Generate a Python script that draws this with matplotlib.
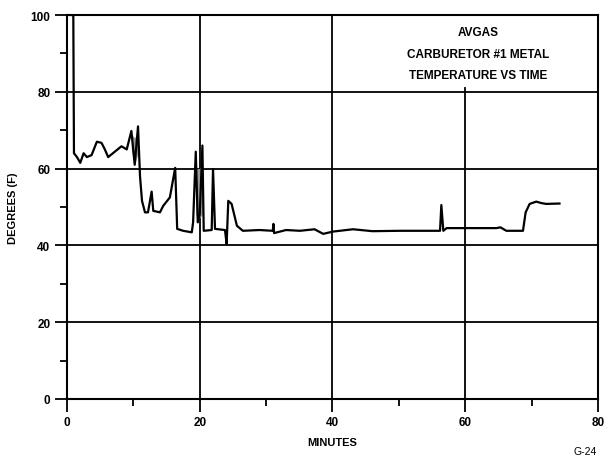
import matplotlib.pyplot as plt
from matplotlib.ticker import MultipleLocator

# Carburetor #1 metal temperature readings (minutes, deg F)
minutes = [0.5, 0.95, 1.05, 1.5, 2.0, 2.5, 3.0, 3.7, 4.5, 5.2, 5.7, 6.2, 7.2, 8.2, 9.0,
           9.7, 10.2, 10.7, 11.0, 11.3, 11.75, 12.2, 12.75, 13.0, 14.0, 14.5, 15.5, 16.3,
           16.6, 17.5, 18.8, 19.0, 19.4, 19.7, 20.0, 20.4, 20.6, 21.8, 22.0, 22.3, 23.8,
           24.05, 24.3, 24.8, 25.6, 26.5, 29.0, 31.0, 31.1, 31.2, 33.0, 35.1, 37.3, 38.6,
           40.1, 43.1, 46.0, 50.2, 56.2, 56.4, 56.7, 57.2, 60.2, 64.7, 65.3, 66.2, 68.7,
           69.1, 69.7, 70.7, 71.5, 72.2, 74.2]
degrees = [100, 100, 64, 63, 61.5, 64, 63, 63.5, 67, 66.7, 65, 63, 64.4, 65.8, 65,
           69.8, 61, 71, 58, 51.6, 48.6, 48.6, 54, 49, 48.6, 50.3, 52.5, 60.2,
           44.3, 43.8, 43.4, 46, 64.4, 46, 48, 66, 43.8, 44, 59.9, 44.3, 44,
           40.4, 51.6, 50.8, 45.1, 43.8, 44, 43.8, 45.6, 43.2, 44, 43.8, 44.2, 43,
           43.6, 44.2, 43.7, 43.8, 43.8, 50.5, 43.8, 44.5, 44.5, 44.5, 44.7, 43.8, 43.8,
           48.6, 50.8, 51.4, 51, 50.8, 50.9]

# shaded (rapid oscillation) bands
band1_t = [9.7, 10.2, 10.7]
band1_lo = [65, 61, 64]
band1_hi = [69, 68, 70]
band2_t = [19.4, 19.9, 20.4]
band2_lo = [48, 47, 48]
band2_hi = [60, 60, 61]

title_lines = ["AVGAS", "CARBURETOR #1 METAL", "TEMPERATURE VS TIME"]

plt.rcParams['font.family'] = ['Liberation Sans', 'DejaVu Sans']
plt.rcParams['font.weight'] = 'bold'

fig = plt.figure(figsize=(6.13, 4.64), dpi=100)
ax = fig.add_axes([0.1093, 0.138, 0.8662, 0.8275])

# grid
for y in [20, 40, 60, 80]:
    ax.axhline(y, color='black', lw=1.3, zorder=1)
ax.axvline(20, color='black', lw=1.3, zorder=1)
ax.axvline(40, color='black', lw=1.3, zorder=1)
ax.axvline(60, ymax=0.81, color='black', lw=1.3, zorder=1)

ax.fill_between(band1_t, band1_lo, band1_hi, color='#9a9a9a', lw=0, zorder=2)
ax.fill_between(band2_t, band2_lo, band2_hi, color='#9a9a9a', lw=0, zorder=2)
ax.plot(minutes, degrees, color='black', lw=1.6, zorder=3)

ax.set_xlim(0, 80)
ax.set_ylim(0, 100)
ax.xaxis.set_major_locator(MultipleLocator(20))
ax.xaxis.set_minor_locator(MultipleLocator(10))
ax.yaxis.set_major_locator(MultipleLocator(20))
ax.yaxis.set_minor_locator(MultipleLocator(10))
ax.tick_params(which='major', direction='out', length=9, width=1.3, labelsize=8.5, pad=3)
ax.tick_params(which='minor', direction='out', length=5, width=1.3)
for s in ax.spines.values():
    s.set_linewidth(1.5)

ax.set_xlabel("MINUTES", fontsize=8, fontweight='bold', labelpad=7)
fig.text(0.021, 0.552, "DEGREES (F)", rotation=90, ha='center', va='center',
         fontsize=8, fontweight='bold')

for i, line in enumerate(title_lines):
    ax.text(61.9, 95.5 - i * 5.6, line, ha='center', va='center', fontsize=8.5)

fig.text(0.955, 0.025, "G-24", ha='center', va='center', fontsize=7.5, fontweight='normal')

fig.savefig('out.png', dpi=100)
